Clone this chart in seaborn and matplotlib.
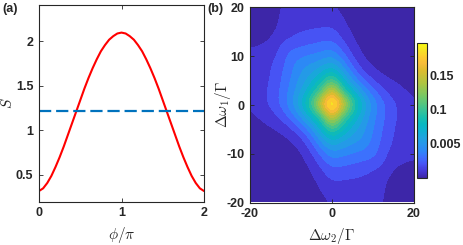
import numpy as np
import matplotlib
matplotlib.use("Agg")
import matplotlib.pyplot as plt
import seaborn as sns
from matplotlib.colors import LinearSegmentedColormap, ListedColormap, Normalize
from matplotlib.cm import ScalarMappable

# (a) S versus phi/pi (symmetric about phi = pi)
phi_half = [0.0, 0.05, 0.10, 0.15, 0.20, 0.25, 0.30, 0.35, 0.40, 0.45, 0.50,
            0.55, 0.60, 0.65, 0.70, 0.75, 0.80, 0.85, 0.90, 0.95, 1.0]
s_half = [0.32, 0.35, 0.41, 0.49, 0.59, 0.70, 0.82, 0.95, 1.08, 1.21, 1.34,
          1.47, 1.59, 1.70, 1.80, 1.89, 1.96, 2.02, 2.06, 2.09, 2.10]
phi = phi_half + [2 - p for p in phi_half[-2::-1]]
S = s_half + s_half[-2::-1]
s_threshold = 1.22

# (b) spectrum on a 2.5 grid, rows dw1 = 20 ... 0, columns dw2 = -20 ... 20
dw = np.linspace(-20, 20, 17)
spec_upper = np.array([
    [0.002, 0.003, 0.005, 0.0105, 0.011, 0.012, 0.012, 0.012, 0.011, 0.007, 0.003, 0.002, 0.002, 0.001, 0.001, 0.001, 0.001],
    [0.003, 0.004, 0.006, 0.011, 0.013, 0.014, 0.015, 0.015, 0.015, 0.011, 0.005, 0.003, 0.002, 0.002, 0.001, 0.001, 0.001],
    [0.004, 0.005, 0.007, 0.012, 0.016, 0.019, 0.020, 0.021, 0.022, 0.015, 0.008, 0.004, 0.003, 0.002, 0.002, 0.001, 0.001],
    [0.009, 0.009, 0.011, 0.020, 0.023, 0.026, 0.028, 0.030, 0.032, 0.022, 0.012, 0.006, 0.004, 0.003, 0.002, 0.002, 0.001],
    [0.011, 0.013, 0.016, 0.023, 0.035, 0.037, 0.040, 0.043, 0.047, 0.034, 0.019, 0.009, 0.005, 0.004, 0.003, 0.002, 0.002],
    [0.012, 0.014, 0.019, 0.027, 0.037, 0.048, 0.053, 0.060, 0.070, 0.052, 0.030, 0.016, 0.009, 0.006, 0.004, 0.003, 0.003],
    [0.012, 0.015, 0.020, 0.029, 0.040, 0.053, 0.065, 0.082, 0.105, 0.075, 0.048, 0.030, 0.019, 0.012, 0.009, 0.007, 0.005],
    [0.012, 0.016, 0.022, 0.031, 0.043, 0.060, 0.082, 0.106, 0.165, 0.100, 0.075, 0.052, 0.034, 0.022, 0.015, 0.011, 0.008],
    [0.011, 0.015, 0.022, 0.032, 0.047, 0.070, 0.105, 0.165, 0.210, 0.165, 0.105, 0.070, 0.047, 0.032, 0.022, 0.015, 0.011],
])
# lower half: the map is symmetric under (dw1, dw2) -> (-dw1, -dw2)
spec = np.vstack([spec_upper, spec_upper[-2::-1, ::-1]])
cbar_ticks = [0.05, 0.1, 0.15]
cbar_labels = ["0.005", "0.1", "0.15"]
spec_max = 0.197

# parula-like colormap
parula_pts = [
    (0.000, (0.2422, 0.1504, 0.6603)), (0.050, (0.2706, 0.2147, 0.8364)),
    (0.100, (0.2810, 0.3228, 0.9579)), (0.150, (0.2445, 0.4311, 0.9961)),
    (0.200, (0.1786, 0.5289, 0.9682)), (0.250, (0.1540, 0.5902, 0.9218)),
    (0.300, (0.1183, 0.6441, 0.8728)), (0.350, (0.0551, 0.6903, 0.8199)),
    (0.400, (0.0300, 0.7238, 0.7549)), (0.450, (0.1021, 0.7470, 0.6759)),
    (0.500, (0.2154, 0.7610, 0.5959)), (0.600, (0.4478, 0.7851, 0.4048)),
    (0.700, (0.6780, 0.7699, 0.2569)), (0.800, (0.8747, 0.7381, 0.1832)),
    (0.850, (0.9712, 0.7356, 0.2283)), (0.900, (0.9927, 0.8017, 0.1789)),
    (0.950, (0.9646, 0.8934, 0.1387)), (1.000, (0.9763, 0.9831, 0.0538)),
]
parula = LinearSegmentedColormap.from_list("parula", parula_pts)
parula_bands = ListedColormap(parula(np.linspace(0, 1, 20)))

sns.set_style("ticks")
plt.rcParams["font.family"] = ["Liberation Sans", "DejaVu Sans"]
plt.rcParams["font.weight"] = "bold"
plt.rcParams["mathtext.fontset"] = "cm"
plt.rcParams["axes.linewidth"] = 0.8
plt.rcParams["xtick.direction"] = "in"
plt.rcParams["ytick.direction"] = "in"

W, H = 463, 245
fig = plt.figure(figsize=(W / 100, H / 100), dpi=100)
ax1 = fig.add_axes([39 / W, 1 - 201.7 / H, 165 / W, 196.7 / H])
ax2 = fig.add_axes([250 / W, 1 - 202.5 / H, 163.7 / W, 195 / H])
cax = fig.add_axes([417 / W, 1 - 178 / H, 10 / W, 135 / H])

tick_kw = dict(labelsize=9, length=3, width=0.6, color="#262626",
               top=True, right=True, pad=4)

# ---- (a)
sns.lineplot(x=phi, y=S, ax=ax1, color="red", lw=1.5)
ax1.axhline(s_threshold, color="#0072BD", lw=1.6, ls=(0, (5.5, 2.2)))
ax1.set_xlim(0, 2)
ax1.set_ylim(0.2, 2.41)
ax1.set_xticks([0, 1, 2], labels=["0", "1", "2"])
ax1.set_yticks([0.5, 1, 1.5, 2], labels=["0.5", "1", "1.5", "2"])
ax1.tick_params(**tick_kw)
ax1.set_xlabel(r"$\phi/\pi$", fontsize=11)
ax1.set_ylabel(r"$S$", fontsize=11)
ax1.xaxis.set_label_coords(0.5, -0.12)
ax1.yaxis.set_label_coords(-0.145, 0.5)
for sp in ax1.spines.values():
    sp.set_color("#262626")

# ---- (b)
step = dw[1] - dw[0]
ax2.imshow(spec, extent=[dw[0] - step / 2, dw[-1] + step / 2,
                         dw[0] - step / 2, dw[-1] + step / 2],
           origin="upper", cmap=parula_bands, norm=Normalize(0, spec_max),
           interpolation="bicubic", interpolation_stage="data", aspect="auto")
ax2.set_xlim(-20, 20)
ax2.set_ylim(-20, 20)
ax2.set_xticks([-20, 0, 20], labels=["-20", "0", "20"])
ax2.set_yticks([-20, -10, 0, 10, 20], labels=["-20", "-10", "0", "10", "20"])
ax2.tick_params(**tick_kw)
ax2.set_xlabel(r"$\Delta\omega_2/\Gamma$", fontsize=11)
ax2.set_ylabel(r"$\Delta\omega_1/\Gamma$", fontsize=11)
ax2.xaxis.set_label_coords(0.5, -0.12)
ax2.yaxis.set_label_coords(-0.105, 0.5)
for sp in ax2.spines.values():
    sp.set_color("#262626")

cb = fig.colorbar(ScalarMappable(norm=Normalize(0, spec_max), cmap=parula), cax=cax)
cb.set_ticks(cbar_ticks, labels=cbar_labels)
cb.ax.tick_params(labelsize=9, length=2, width=0.6, direction="in", pad=2)
cb.outline.set_linewidth(0.8)
cb.outline.set_edgecolor("#262626")

fig.text(2 / W, 1 - 3 / H, "(a)", fontsize=9, fontweight="bold", va="top")
fig.text(207 / W, 1 - 3 / H, "(b)", fontsize=9, fontweight="bold", va="top")

fig.savefig("out.png", dpi=100)
